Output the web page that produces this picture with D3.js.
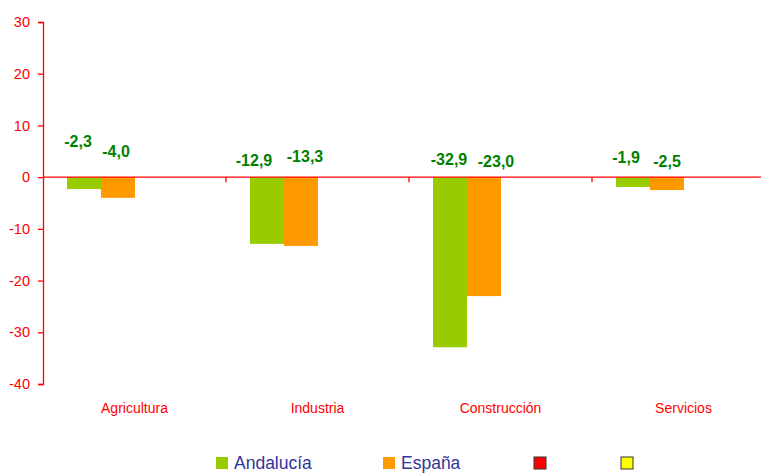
<!DOCTYPE html>
<html>
<head>
<meta charset="utf-8">
<script src="https://cdn.jsdelivr.net/npm/d3@7"></script>
<style>
  html, body { margin: 0; padding: 0; background: #fff; }
  svg { display: block; font-family: "Liberation Sans", Arial, sans-serif; }
</style>
</head>
<body>
<svg id="chart" width="761" height="473"></svg>
<script>
// Sector categories and the two plotted series (variation, %)
const categories = ["Agricultura", "Industria", "Construcción", "Servicios"];
const andalucia = [-2.3, -12.9, -32.9, -1.9];
const espana = [-4.0, -13.3, -23.0, -2.5];
// Two further series have no values; they keep their slot in each group
const serie3 = [null, null, null, null];
const serie4 = [null, null, null, null];
const seriesNames = ["Andalucía", "España", "", ""];
const seriesColors = ["#99cc00", "#ff9900", "#ff0000", "#ffff00"];
const yTicks = [30, 20, 10, 0, -10, -20, -30, -40];

// Label placement tweaks (pixel shift from bar top centre), per series and category
const labelShift = [
  [[-6, -30], [-13, -11], [-1, -12], [-7, -14]],
  [[-2, -20], [4, -15], [12, -10], [0, -10]]
];

const series = [andalucia, espana, serie3, serie4];
const fmt = v => d3.format(".1f")(v).replace(".", ",").replace("\u2212", "-");

const svg = d3.select("#chart");
const plotLeft = 43, plotTop = 22, plotBottom = 384;
const bandW = 183;

const x = d3.scaleBand().domain(categories).range([plotLeft, plotLeft + bandW * categories.length]);
const xs = d3.scaleBand().domain(d3.range(series.length)).range([24, 24 + 34 * series.length]);
const y = d3.scaleLinear().domain([-40, 30]).range([plotBottom, plotTop]);

const red = "#ff0000";

// Bars
series.forEach((vals, si) => {
  svg.append("g").selectAll("rect")
    .data(vals.map((v, i) => ({ v, c: categories[i] })).filter(d => d.v !== null))
    .join("rect")
    .attr("x", d => x(d.c) + xs(si))
    .attr("width", xs.bandwidth())
    .attr("y", d => y(Math.max(0, d.v)))
    .attr("height", d => Math.abs(y(d.v) - y(0)))
    .attr("fill", seriesColors[si]);
});

// Y axis
const yAxis = d3.axisLeft(y).tickValues(yTicks).tickSize(5).tickPadding(8).tickFormat(d => String(d));
const gy = svg.append("g").attr("transform", `translate(${plotLeft},0)`).call(yAxis);
gy.select(".domain").attr("stroke", red).attr("stroke-width", 1.3);
gy.selectAll(".tick line").attr("stroke", red).attr("stroke-width", 1.3);
gy.selectAll(".tick text").attr("fill", red).attr("font-size", 14.5).attr("font-family", "Liberation Sans, Arial, sans-serif");

// Zero line with category separators
svg.append("line")
  .attr("x1", plotLeft).attr("x2", 761)
  .attr("y1", y(0)).attr("y2", y(0))
  .attr("stroke", red).attr("stroke-width", 1.3);
svg.append("g").selectAll("line")
  .data(categories.slice(1))
  .join("line")
  .attr("x1", d => x(d)).attr("x2", d => x(d))
  .attr("y1", y(0)).attr("y2", y(0) + 5)
  .attr("stroke", red).attr("stroke-width", 1.3);

// Category labels
svg.append("g").selectAll("text")
  .data(categories)
  .join("text")
  .attr("x", d => x(d) + bandW / 2)
  .attr("y", 413)
  .attr("text-anchor", "middle")
  .attr("fill", red)
  .attr("font-size", 14)
  .text(d => d);

// Value labels
[andalucia, espana].forEach((vals, si) => {
  svg.append("g").selectAll("text")
    .data(vals.map((v, i) => ({ v, c: categories[i], i })))
    .join("text")
    .attr("x", d => x(d.c) + xs(si) + xs.bandwidth() / 2 + labelShift[si][d.i][0])
    .attr("y", d => y(0) + labelShift[si][d.i][1])
    .attr("text-anchor", "middle")
    .attr("fill", "#008000")
    .attr("font-weight", "bold")
    .attr("font-size", 16)
    .text(d => fmt(d.v));
});

// Legend
const legendX = [216, 383, 534, 621];
const legend = svg.append("g").selectAll("g")
  .data(seriesNames.map((n, i) => ({ n, i })))
  .join("g")
  .attr("transform", d => `translate(${legendX[d.i]},457)`);
legend.append("rect")
  .attr("width", 12).attr("height", 12)
  .attr("fill", d => seriesColors[d.i])
  .attr("stroke", d => d.i >= 2 ? "#333" : "none")
  .attr("stroke-width", 1);
legend.append("text")
  .attr("x", 18).attr("y", 12)
  .attr("fill", "#333399")
  .attr("font-size", 17.5)
  .text(d => d.n);
</script>
</body>
</html>
